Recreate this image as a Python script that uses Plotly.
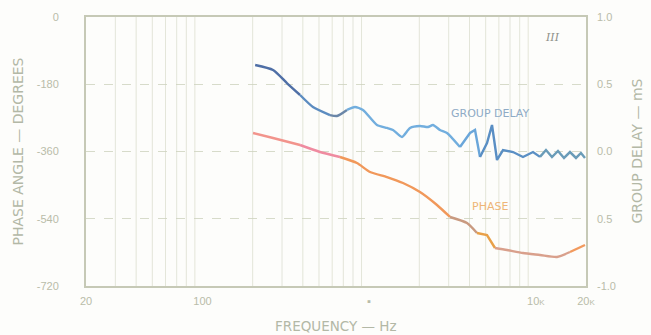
import plotly.graph_objects as go

# Group delay (ms) versus frequency (Hz)
gd_freq = [207, 265, 321, 385, 460, 582, 641, 736, 822, 918, 1114, 1280, 1390, 1574,
           1758, 2018, 2254, 2416, 2660, 2932, 3508, 4028, 4316, 4624, 5094, 5458,
           5848, 6354, 7296, 8376, 9616, 10594, 11508, 12500, 13580, 14760, 16030,
           17420, 18660, 19720]
gd_ms = [0.643, 0.606, 0.509, 0.420, 0.331, 0.271, 0.264, 0.309, 0.331, 0.309, 0.197,
         0.175, 0.160, 0.108, 0.175, 0.190, 0.182, 0.197, 0.160, 0.138, 0.033, 0.138,
         0.160, -0.041, 0.063, 0.197, -0.063, 0.011, -0.004, -0.041, -0.004, -0.040,
         0.011, -0.041, 0.004, -0.048, -0.004, -0.048, -0.011, -0.048]

# Phase angle (degrees) versus frequency (Hz)
ph_freq = [201, 265, 385, 507, 668, 845, 1012, 1280, 1596, 2018, 2552, 3055, 3864,
           4436, 5094, 5688, 6714, 8376, 10594, 13400, 16030, 19720]
ph_deg = [-310.5, -323.9, -342.6, -361.3, -374.7, -390.8, -414.9, -428.3, -444.3,
          -468.4, -503.2, -535.3, -551.4, -578.1, -583.5, -618.3, -623.6, -631.7,
          -637.0, -642.4, -629.0, -610.3]

# Colour bands along each curve: (first index, last index, colour, smooth?)
gd_bands = [(0, 3, "#4f6fa6", True), (3, 5, "#5c8cc0", True), (5, 7, "#6a86a8", True),
            (7, 20, "#72aede", True), (20, 23, "#6aa6da", False),
            (23, 31, "#5a8fc4", False), (31, 39, "#6a9cb8", False)]
ph_bands = [(0, 2, "#f2948c", True), (2, 4, "#ef8ba0", True), (4, 11, "#f1985a", True),
            (11, 13, "#c99a80", True), (13, 15, "#e8a048", False),
            (15, 20, "#d9a08c", True), (20, 21, "#f29a5e", True)]

# Frequency axis labels and log grid
x_label_vals = [20, 100, 1000, 10000, 20000]
x_label_text = ["20", "100", "▪", "10<span style='font-size:8px'>K</span>",
                "20<span style='font-size:8px'>K</span>"]
grid_freqs = [30, 40, 50, 60, 70, 80, 90, 200, 300, 400, 500, 600, 700, 800, 900,
              2000, 3000, 4000, 5000, 6000, 7000, 8000, 9000]

phase_ticks = [0, -180, -360, -540, -720]
phase_text = ["0", "-180", "-360", "-540", "-720"]
delay_ticks = [1.0, 0.5, 0.0, -0.5, -1.0]
delay_text = ["1.0", "0.5", "0.0", "0.5", "-1.0"]

ink = "#b9bca9"
title_ink = "#b3b8a6"
frame = "#c6c9b6"
font_family = "Liberation Sans, Arial, sans-serif"
title_family = "DejaVu Sans, Verdana, sans-serif"

fig = go.Figure()

for a, b, col, smooth in ph_bands:
    fig.add_trace(go.Scatter(x=ph_freq[a:b + 1], y=ph_deg[a:b + 1], mode="lines",
                             line=dict(color=col, width=2.4,
                                       shape="spline" if smooth else "linear",
                                       smoothing=0.6 if smooth else None),
                             showlegend=False, hoverinfo="skip"))

for a, b, col, smooth in gd_bands:
    fig.add_trace(go.Scatter(x=gd_freq[a:b + 1], y=gd_ms[a:b + 1], mode="lines",
                             line=dict(color=col, width=2.4,
                                       shape="spline" if smooth else "linear",
                                       smoothing=0.6 if smooth else None),
                             yaxis="y2", showlegend=False, hoverinfo="skip"))

# Faint vertical grid
for f in grid_freqs:
    fig.add_shape(type="line", x0=f, x1=f, y0=0, y1=1, xref="x", yref="paper",
                  line=dict(color="rgba(205,210,190,0.55)", width=1), layer="below")

fig.update_layout(
    width=651, height=335,
    margin=dict(l=86, r=65, t=17, b=49),
    paper_bgcolor="#fdfdfb", plot_bgcolor="#fdfdfb",
    font=dict(family=font_family, color=ink, size=11),
    xaxis=dict(type="log", range=[1.30103, 4.30103],
               tickvals=x_label_vals, ticktext=x_label_text,
               showgrid=False, zeroline=False,
               showline=True, linecolor=frame, linewidth=2, mirror=True,
               ticks="", ticklabelstandoff=4,
               tickfont=dict(size=11, color=ink)),
    yaxis=dict(range=[-720, 0], tickvals=phase_ticks, ticktext=phase_text,
               showgrid=True, gridcolor="rgba(205,210,190,0.8)", griddash="dash",
               gridwidth=1, zeroline=False,
               showline=True, linecolor=frame, linewidth=2, mirror=True,
               ticks="", ticklabelstandoff=23,
               tickfont=dict(size=11, color=ink)),
    yaxis2=dict(range=[-1, 1], overlaying="y", side="right",
                tickvals=delay_ticks, ticktext=delay_text,
                showgrid=False, zeroline=False, showline=False,
                ticks="", ticklabelstandoff=10,
                tickfont=dict(size=11, color=ink)),
)

# Axis titles
fig.add_annotation(text="PHASE ANGLE — DEGREES", xref="paper", yref="paper",
                   x=0, y=0.5, xshift=-69, xanchor="center", yanchor="middle",
                   textangle=-90, showarrow=False,
                   font=dict(size=14, color=title_ink, family=title_family))
fig.add_annotation(text="GROUP DELAY — mS", xref="paper", yref="paper",
                   x=1, y=0.5, xshift=50, xanchor="center", yanchor="middle",
                   textangle=-90, showarrow=False,
                   font=dict(size=14, color=title_ink, family=title_family))
fig.add_annotation(text="FREQUENCY — Hz", xref="paper", yref="paper",
                   x=0.5, y=0, yshift=-40, xanchor="center", yanchor="middle",
                   showarrow=False,
                   font=dict(size=13.5, color=title_ink, family=title_family))

# Curve labels
fig.add_annotation(text="GROUP DELAY", x=3.725, y=0.286, xref="x", yref="y2",
                   showarrow=False,
                   font=dict(size=11, color="#8fabc6", family=title_family))
fig.add_annotation(text="PHASE", x=3.725, y=-508, xref="x", yref="y",
                   showarrow=False,
                   font=dict(size=11, color="#eeb577", family=title_family))
fig.add_annotation(text="<i>III</i>", x=4.097, y=-55, xref="x", yref="y",
                   showarrow=False, font=dict(size=11, color="#8f918a",
                                              family="DejaVu Serif"))

fig.write_html("out.html")
